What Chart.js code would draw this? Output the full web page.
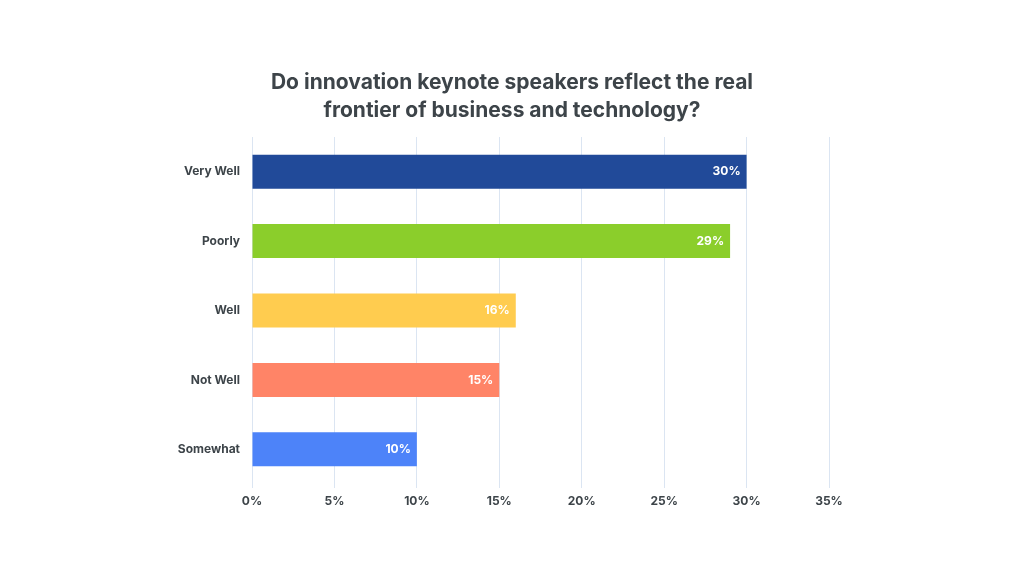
<!DOCTYPE html>
<html>
<head>
<meta charset="utf-8">
<script src="https://cdn.jsdelivr.net/npm/chart.js@4"></script>
<style>
  html, body { margin: 0; padding: 0; background: #ffffff; }
  #wrap { width: 1024px; height: 576px; }
</style>
</head>
<body>
<div id="wrap"><canvas id="chart" width="1024" height="576"></canvas></div>
<script>
const categories = ['Very Well', 'Poorly', 'Well', 'Not Well', 'Somewhat'];
const values = [30, 29, 16, 15, 10];
const barColors = ['#214a99', '#8bce2b', '#ffcc4f', '#ff8467', '#4d83f9'];
const titleLines = ['Do innovation keynote speakers reflect the real', 'frontier of business and technology?'];

const textColor = '#3d4449';
const gridColor = '#dbe5f2';

// title centred on the whole canvas, not just the chart box
const pageTitle = {
  id: 'pageTitle',
  afterDraw(chart) {
    const ctx = chart.ctx;
    ctx.save();
    ctx.fillStyle = textColor;
    ctx.font = 'bold 21px Inter, "DejaVu Sans", sans-serif';
    ctx.textAlign = 'center';
    ctx.textBaseline = 'middle';
    titleLines.forEach((line, i) => {
      ctx.fillText(line, chart.width / 2, 83 + i * 28);
    });
    ctx.restore();
  }
};

// draws the white % labels inside the end of each bar
const valueLabels = {
  id: 'valueLabels',
  afterDatasetsDraw(chart) {
    const ctx = chart.ctx;
    const meta = chart.getDatasetMeta(0);
    ctx.save();
    ctx.fillStyle = '#ffffff';
    ctx.font = 'bold 12px Inter, "DejaVu Sans", sans-serif';
    ctx.textAlign = 'right';
    ctx.textBaseline = 'middle';
    meta.data.forEach((bar, i) => {
      ctx.fillText(values[i] + '%', bar.x - 6, bar.y);
    });
    ctx.restore();
  }
};

new Chart(document.getElementById('chart'), {
  type: 'bar',
  data: {
    labels: categories,
    datasets: [{
      data: values,
      backgroundColor: barColors,
      borderWidth: 0,
      barPercentage: 0.49,
      categoryPercentage: 1.0
    }]
  },
  options: {
    indexAxis: 'y',
    responsive: false,
    animation: false,
    layout: { padding: { left: 0, right: 195, top: 137, bottom: 50 } },
    plugins: {
      legend: { display: false },
      tooltip: { enabled: false },
      title: { display: false }
    },
    scales: {
      x: {
        min: 0,
        max: 35,
        ticks: {
          stepSize: 5,
          padding: 6,
          color: textColor,
          font: { family: 'Inter', size: 12, weight: 'bold' },
          callback: (v) => v + '%'
        },
        grid: { color: gridColor, tickLength: 4, tickColor: gridColor },
        border: { display: false },
        afterFit(scale) { scale.height = 42; }
      },
      y: {
        ticks: {
          padding: 4,
          color: textColor,
          font: { family: 'Inter', size: 12, weight: 'bold' }
        },
        grid: { display: false },
        border: { color: gridColor },
        afterFit(scale) { scale.width = 252; }
      }
    }
  },
  plugins: [valueLabels, pageTitle]
});
</script>
</body>
</html>
